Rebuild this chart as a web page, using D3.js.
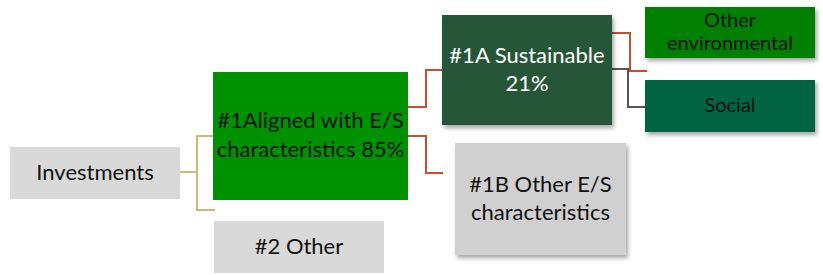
<!DOCTYPE html>
<html>
<head>
<meta charset="utf-8">
<script src="https://cdn.jsdelivr.net/npm/d3@7"></script>
<style>
  body { margin:0; background:#fff; }
  svg { display:block; font-family: Lato, "Open Sans", sans-serif; }
</style>
</head>
<body>
<svg></svg>
<script>
// categories of the asset allocation tree
var ids     = ["inv", "aligned", "other2", "sust", "otherES", "env", "social"];
var parents = [null, "inv", "inv", "aligned", "aligned", "sust", "sust"];
var labels  = ["Investments",
               "#1Aligned with E/S\ncharacteristics {v}%",
               "#2 Other",
               "#1A Sustainable\n{v}%",
               "#1B Other E/S\ncharacteristics",
               "Other\nenvironmental",
               "Social"];
// shares of investments (percent)
var shares  = [null, 85, null, 21, null, null, null];

var screen = { width:823, height:275 };

var svg = d3.select("svg")
            .attr("width", screen.width)
            .attr("height", screen.height);

// box geometry and look per node
var boxes = {
  inv:     { x:10,  y:147, w:170, h:52,  fill:"#d9d9d9", text:"#111", fs:22, lh:27 },
  aligned: { x:213, y:72,  w:195, h:128, fill:"#009100", text:"#111", fs:22, lh:29 },
  other2:  { x:214, y:221, w:170, h:52,  fill:"#d9d9d9", text:"#111", fs:22, lh:27 },
  sust:    { x:442, y:15,  w:170, h:110, fill:"#265639", text:"#fff", fs:22, lh:28, shadow:true },
  otherES: { x:455, y:143, w:171, h:112, fill:"#d0d0d0", text:"#111", fs:22, lh:28, shadow:true },
  env:     { x:645, y:7,   w:170, h:51,  fill:"#007f00", text:"#111", fs:20, lh:23, shadow:true },
  social:  { x:645, y:80,  w:170, h:52,  fill:"#006443", text:"#111", fs:20, lh:23, shadow:true }
};

// connector routing per link (start y on parent, elbow x, end point on child side)
var wires = {
  aligned: { y0:172, ex:197, x1:213, y1:136, color:"#c8bd74" },
  other2:  { y0:172, ex:197, x1:215, y1:210, color:"#c8bd74" },
  sust:    { y0:107, ex:426, x1:442, y1:70,  color:"#c5502f" },
  otherES: { y0:136, ex:426, x1:443, y1:173, color:"#c5502f" },
  env:     { y0:33,  ex:630, x1:647, y1:71,  color:"#c5502f" },
  social:  { y0:69,  ex:628, x1:645, y1:107, color:"#555555" }
};

var table = ids.map(function(id, i) {
  return { id:id, parent:parents[i], label:labels[i], share:shares[i] };
});

var root = d3.stratify()
             .id(function(d) { return d.id; })
             .parentId(function(d) { return d.parent; })(table);

var defs = svg.append("defs");
var shadow = defs.append("filter").attr("id", "shadow")
                 .attr("x", "-10%").attr("y", "-10%")
                 .attr("width", "130%").attr("height", "140%");
shadow.append("feDropShadow")
      .attr("dx", 2).attr("dy", 3)
      .attr("stdDeviation", 2)
      .attr("flood-color", "#000")
      .attr("flood-opacity", 0.35);

// connectors
svg.append("g").classed("links", true)
   .selectAll("path")
   .data(root.links())
   .enter()
   .append("path")
   .attr("fill", "none")
   .attr("stroke-width", 2)
   .attr("stroke", function(d) { return wires[d.target.id].color; })
   .attr("d", function(d) {
     var p = boxes[d.source.id], w = wires[d.target.id];
     var path = d3.path();
     path.moveTo(p.x + p.w, w.y0);
     path.lineTo(w.ex, w.y0);
     path.lineTo(w.ex, w.y1);
     path.lineTo(w.x1, w.y1);
     return path.toString();
   });

// boxes
var nodes = svg.append("g").classed("nodes", true)
               .selectAll("g")
               .data(root.descendants())
               .enter()
               .append("g")
               .attr("transform", function(d) {
                 var b = boxes[d.id];
                 return "translate(" + b.x + "," + b.y + ")";
               });

nodes.append("rect")
     .attr("width", function(d) { return boxes[d.id].w; })
     .attr("height", function(d) { return boxes[d.id].h; })
     .attr("fill", function(d) { return boxes[d.id].fill; })
     .attr("filter", function(d) { return boxes[d.id].shadow ? "url(#shadow)" : null; });

nodes.each(function(d) {
  var b = boxes[d.id];
  var lines = d.data.label.replace("{v}", d.data.share).split("\n");
  var t = d3.select(this).append("text")
            .attr("text-anchor", "middle")
            .attr("font-size", b.fs)
            .attr("fill", b.text);
  lines.forEach(function(line, i) {
    t.append("tspan")
     .attr("x", b.w / 2)
     .attr("y", b.h / 2 - 2 + (i - (lines.length - 1) / 2) * b.lh)
     .attr("dominant-baseline", "central")
     .text(line);
  });
});
</script>
</body>
</html>
